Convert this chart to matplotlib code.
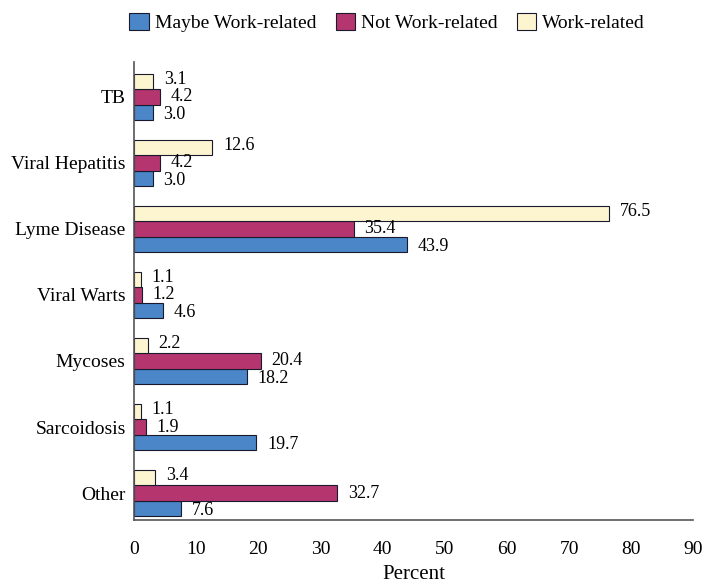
import numpy as np
import matplotlib.pyplot as plt

plt.rcParams['font.family'] = ['Liberation Serif', 'DejaVu Serif']

categories = ['TB', 'Viral Hepatitis', 'Lyme Disease', 'Viral Warts', 'Mycoses', 'Sarcoidosis', 'Other']
maybe = [3.0, 3.0, 43.9, 4.6, 18.2, 19.7, 7.6]
not_work = [4.2, 4.2, 35.4, 1.2, 20.4, 1.9, 32.7]
work = [3.1, 12.6, 76.5, 1.1, 2.2, 1.1, 3.4]

series = [('Maybe Work-related', maybe, '#4a86c8', -1, -0.03),
          ('Not Work-related', not_work, '#b5356f', 0, 0.0),
          ('Work-related', work, '#fdf5d0', 1, 0.04)]

fig, ax = plt.subplots(figsize=(7.17, 5.85), dpi=100)
fig.subplots_adjust(left=0.187, right=0.967, top=0.894, bottom=0.111)

y = np.arange(len(categories))[::-1]
h = 0.23
for name, vals, col, off, lab_off in series:
    ypos = y + off * h
    ax.barh(ypos, vals, height=h, color=col, edgecolor='#1a1a2e', linewidth=0.8, label=name)
    for yy, v in zip(ypos, vals):
        ax.text(v + 1.7, yy + lab_off, f'{v:.1f}', va='center', ha='left', fontsize=13)

ax.set_yticks(y)
ax.set_yticklabels(categories, fontsize=14)
ax.set_xlim(0, 90)
ax.set_ylim(-0.41, 6.53)
ax.set_xticks(np.arange(0, 91, 10))
ax.tick_params(axis='both', length=0, labelsize=14)
ax.tick_params(axis='y', pad=6)
ax.tick_params(axis='x', pad=15)
ax.set_xlabel('Percent', fontsize=15, labelpad=5)
for s in ['top', 'right']:
    ax.spines[s].set_visible(False)
for s in ['left', 'bottom']:
    ax.spines[s].set_color('#555555')
    ax.spines[s].set_linewidth(1.2)

handles, labels = ax.get_legend_handles_labels()
fig.legend(handles, labels, loc='upper center', bbox_to_anchor=(0.54, 1.008), ncol=3,
           frameon=False, fontsize=14, handlelength=1.0, handleheight=1.0,
           columnspacing=1.0, handletextpad=0.3)

fig.savefig('out.png', dpi=100)
